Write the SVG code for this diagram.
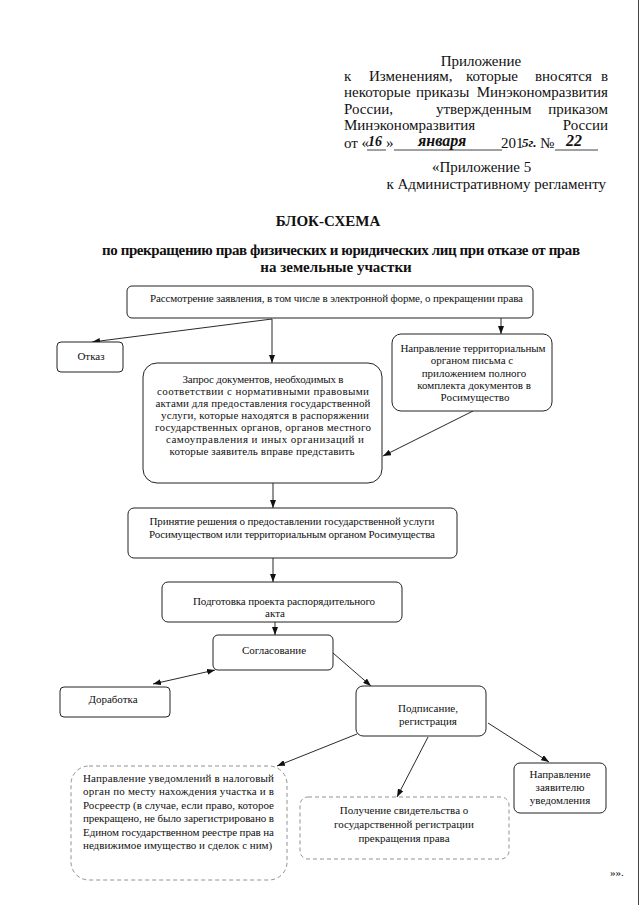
<svg xmlns="http://www.w3.org/2000/svg" width="640" height="905" viewBox="0 0 640 905">
<defs>
<style>
.t{font-family:"Liberation Serif","Times New Roman",serif;fill:#111}
.h{font-size:15px}
.hb{font-size:15px;font-weight:bold}
.b{font-size:11px}
.m{text-anchor:middle}
.e{text-anchor:end}
.hw{font-family:"Liberation Serif",serif;font-style:italic;font-weight:bold;font-size:16px;fill:#111}
.box{fill:#fff;stroke:#222;stroke-width:1}
.dash{fill:#fff;stroke:#777;stroke-width:0.8;stroke-dasharray:4 3}
.con{stroke:#111;stroke-width:0.9;fill:none}
.ul{stroke:#111;stroke-width:0.8}
</style>
<marker id="ah" markerWidth="8" markerHeight="6" refX="8" refY="3" orient="auto-start-reverse" markerUnits="userSpaceOnUse">
<path d="M0,0 L8,3 L0,6 z" fill="#111"/>
</marker>
</defs>
<rect width="640" height="905" fill="#fff"/>
<line x1="638.5" y1="0" x2="638.5" y2="905" stroke="#444" stroke-width="1"/>

<g id="header">
<text class="t h m" x="481" y="66">Приложение</text>
<text class="t h" x="344" y="81">к</text>
<text class="t h" x="369" y="81">Изменениям,</text>
<text class="t h" x="466" y="81">которые</text>
<text class="t h" x="535" y="81">вносятся</text>
<text class="t h e" x="608" y="81">в</text>
<text class="t h" x="344" y="97">некоторые</text>
<text class="t h" x="416" y="97">приказы</text>
<text class="t h e" x="608" y="97">Минэкономразвития</text>
<text class="t h" x="344" y="114">России,</text>
<text class="t h" x="436" y="114">утвержденным</text>
<text class="t h e" x="608" y="114">приказом</text>
<text class="t h" x="344" y="130">Минэкономразвития</text>
<text class="t h e" x="608" y="130">России</text>
<text class="t h" x="344" y="148">от «</text>
<line class="ul" x1="367" y1="150" x2="386" y2="150"/>
<text class="hw" x="368" y="146" style="font-size:14px">16</text>
<text class="t h" x="386" y="148">»</text>
<line class="ul" x1="394" y1="150" x2="502" y2="150"/>
<text class="hw" x="418" y="146">января</text>
<text class="t h" x="501" y="148">201</text>
<text class="hw" x="522" y="147" style="font-size:13px">5г.</text>
<text class="t h" x="540" y="148">№</text>
<line class="ul" x1="555" y1="150" x2="598" y2="150"/>
<text class="hw" x="566" y="146">22</text>
<text class="t h" x="432" y="172">«Приложение 5</text>
<text class="t h e" x="606" y="189">к Административному регламенту</text>
</g>

<g id="title">
<text class="t hb m" x="328" y="226">БЛОК-СХЕМА</text>
<text class="t hb" x="102" y="255" textLength="478" lengthAdjust="spacing">по прекращению прав физических и юридических лиц при отказе от прав</text>
<text class="t hb m" x="336" y="272">на земельные участки</text>
</g>

<g id="connectors">
<line class="con" x1="272" y1="319" x2="92" y2="342" marker-end="url(#ah)"/>
<line class="con" x1="272" y1="319" x2="272" y2="363" marker-end="url(#ah)"/>
<line class="con" x1="501" y1="318" x2="501" y2="334" marker-end="url(#ah)"/>
<line class="con" x1="473" y1="411" x2="383" y2="456" marker-end="url(#ah)"/>
<line class="con" x1="273" y1="483" x2="273" y2="508" marker-end="url(#ah)"/>
<line class="con" x1="273" y1="558" x2="273" y2="582" marker-end="url(#ah)"/>
<line class="con" x1="275" y1="622" x2="275" y2="635" marker-end="url(#ah)"/>
<line class="con" x1="153" y1="684" x2="215" y2="670" marker-start="url(#ah)" marker-end="url(#ah)"/>
<line class="con" x1="333" y1="653" x2="371" y2="686" marker-end="url(#ah)"/>
<line class="con" x1="357" y1="734" x2="277" y2="766" marker-end="url(#ah)"/>
<line class="con" x1="428" y1="737" x2="397" y2="797" marker-end="url(#ah)"/>
<line class="con" x1="488" y1="723" x2="549" y2="762" marker-end="url(#ah)"/>
</g>

<g id="n1">
<rect class="box" x="127" y="286" width="406" height="32" rx="5"/>
<text class="t b" x="150" y="302" textLength="373" lengthAdjust="spacing">Рассмотрение заявления, в том числе в электронной форме, о прекращении права</text>
</g>

<g id="n-otkaz">
<rect class="box" x="57" y="342" width="66" height="30" rx="4"/>
<text class="t b m" x="91" y="360">Отказ</text>
</g>

<g id="n-zapros">
<rect class="box" x="143" y="363" width="239" height="120" rx="14"/>
<text class="t b m" x="263" y="383" textLength="161" lengthAdjust="spacing">Запрос документов, необходимых в</text>
<text class="t b m" x="263" y="395" textLength="212" lengthAdjust="spacing">соответствии с нормативными правовыми</text>
<text class="t b m" x="263" y="407" textLength="215" lengthAdjust="spacing">актами для предоставления государственной</text>
<text class="t b m" x="265" y="419" textLength="208" lengthAdjust="spacing">услуги, которые находятся в распоряжении</text>
<text class="t b m" x="263" y="431" textLength="216" lengthAdjust="spacing">государственных органов, органов местного</text>
<text class="t b m" x="265" y="443" textLength="198" lengthAdjust="spacing">самоуправления и иных организаций и</text>
<text class="t b m" x="262" y="455" textLength="185" lengthAdjust="spacing">которые заявитель вправе представить</text>
</g>

<g id="n-terr">
<rect class="box" x="392" y="334" width="160" height="77" rx="9"/>
<text class="t b m" x="473" y="352" textLength="145" lengthAdjust="spacing">Направление территориальным</text>
<text class="t b m" x="472" y="364">органом письма с</text>
<text class="t b m" x="474" y="377">приложением полного</text>
<text class="t b m" x="474" y="389">комплекта документов в</text>
<text class="t b m" x="475" y="401">Росимущество</text>
</g>

<g id="n-prinyatie">
<rect class="box" x="128" y="508" width="329" height="50" rx="6"/>
<text class="t b m" x="292" y="525" textLength="285" lengthAdjust="spacing">Принятие решения о предоставлении государственной услуги</text>
<text class="t b m" x="292" y="538" textLength="286" lengthAdjust="spacing">Росимуществом или территориальным органом Росимущества</text>
</g>

<g id="n-podgotovka">
<rect class="box" x="162" y="582" width="240" height="40" rx="6"/>
<text class="t b m" x="284" y="605" textLength="182" lengthAdjust="spacing">Подготовка проекта распорядительного</text>
<text class="t b m" x="275" y="617">акта</text>
</g>

<g id="n-soglasovanie">
<rect class="box" x="213" y="635" width="120" height="35" rx="5"/>
<text class="t b m" x="274" y="654">Согласование</text>
</g>

<g id="n-dorabotka">
<rect class="box" x="60" y="687" width="110" height="30" rx="4"/>
<text class="t b m" x="113" y="703">Доработка</text>
</g>

<g id="n-podpisanie">
<rect class="box" x="356" y="686" width="130" height="50" rx="7"/>
<text class="t b m" x="428" y="712">Подписание,</text>
<text class="t b m" x="428" y="725">регистрация</text>
</g>

<g id="n-uvedomleniya">
<rect class="dash" x="71" y="766" width="216" height="114" rx="18"/>
<text class="t b" x="83" y="782" textLength="191" lengthAdjust="spacing">Направление уведомлений в налоговый</text>
<text class="t b" x="83" y="795" textLength="191" lengthAdjust="spacing">орган по месту нахождения участка и  в</text>
<text class="t b" x="83" y="809" textLength="191" lengthAdjust="spacing">Росреестр (в случае, если право, которое</text>
<text class="t b" x="83" y="822" textLength="191" lengthAdjust="spacing">прекращено, не было зарегистрировано в</text>
<text class="t b" x="83" y="836" textLength="191" lengthAdjust="spacing">Едином государственном реестре прав на</text>
<text class="t b" x="83" y="849">недвижимое имущество и сделок с ним)</text>
</g>

<g id="n-poluchenie">
<rect class="dash" x="300" y="797" width="209" height="62" rx="8"/>
<text class="t b m" x="404" y="814">Получение свидетельства о</text>
<text class="t b m" x="404" y="828">государственной регистрации</text>
<text class="t b m" x="404" y="842">прекращения права</text>
</g>

<g id="n-zayavitel">
<rect class="box" x="514" y="763" width="92" height="50" rx="6"/>
<text class="t b m" x="560" y="778">Направление</text>
<text class="t b m" x="560" y="791">заявителю</text>
<text class="t b m" x="560" y="804">уведомления</text>
</g>

<text class="t b" x="610" y="876">»».</text>
</svg>
